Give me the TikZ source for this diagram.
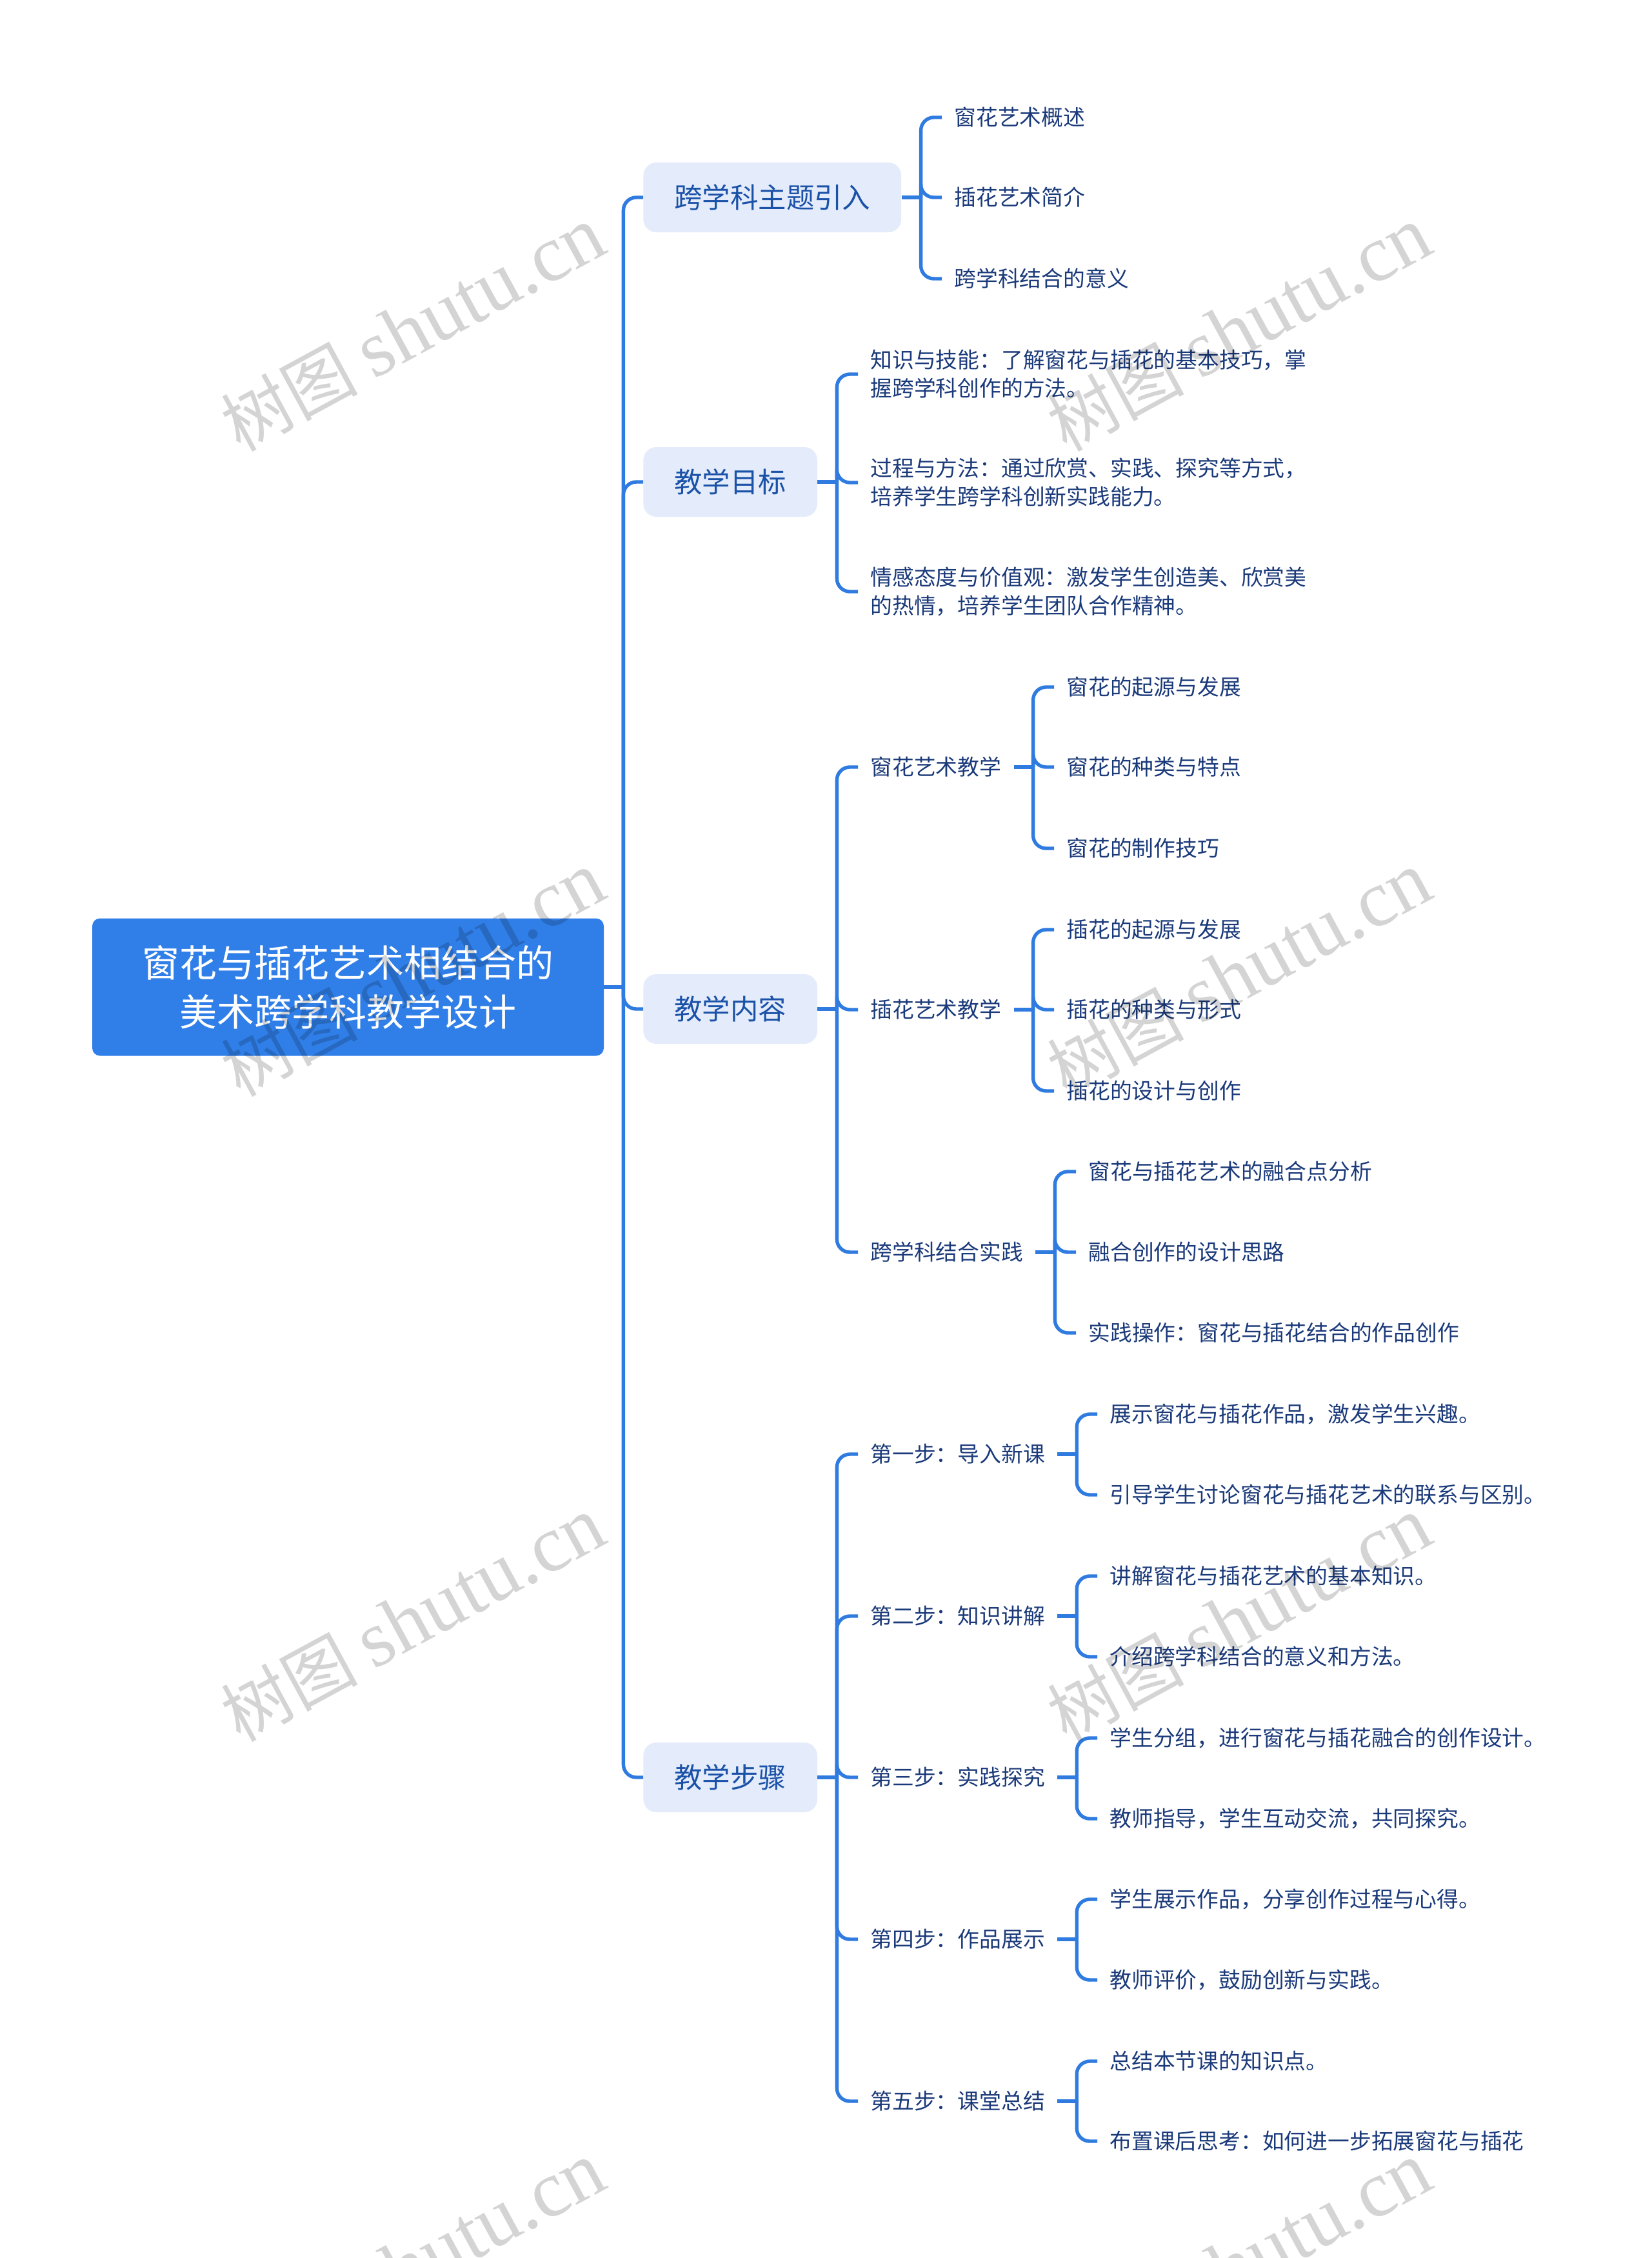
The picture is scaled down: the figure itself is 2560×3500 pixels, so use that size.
\documentclass[tikz,border=0pt]{standalone}
\usepackage{fontspec}
\setmainfont{Noto Sans CJK SC}
\newfontfamily\markfont{Liberation Serif}
\usetikzlibrary{positioning}
\definecolor{linkblue}{HTML}{2F7BE0}
\definecolor{rootblue}{HTML}{307FE8}
\definecolor{boxblue}{HTML}{E4EBFB}
\definecolor{boxtext}{HTML}{1A52A8}
\definecolor{leaftext}{HTML}{1B3A7A}
\tikzset{
    link/.style={draw=linkblue, line width=2.7pt, rounded corners=10pt},
    root/.style={rectangle, fill=rootblue, rounded corners=6pt, text=white, align=center,
        minimum width=396.5pt, minimum height=106.5pt, font=\fontsize{29}{38}\selectfont},
    topic/.style={rectangle, fill=boxblue, rounded corners=10pt, text=boxtext, anchor=west,
        inner xsep=24pt, minimum height=54pt, font=\fontsize{21.7}{28}\selectfont},
    leaf/.style={rectangle, text=leaftext, align=left, anchor=west, inner xsep=9.5pt, inner ysep=0pt,
        font=\fontsize{16.9}{22}\selectfont},
    watermark/.style={text=black, opacity=0.17, rotate=28.5}
}
\begin{document}
\begin{tikzpicture}[x=0.5pt, y=-0.5pt]
	\useasboundingbox (0,0) rectangle (2560,3500);
	\node[root] (main) at (539.5,1530) {窗花与插花艺术相结合的\\美术跨学科教学设计};
	% first level
	\node[topic] (intro) at (997,306) {跨学科主题引入};
	\node[topic] (goal) at (997,747) {教学目标};
	\node[topic] (content) at (997,1564) {教学内容};
	\node[topic] (steps) at (997,2755) {教学步骤};
	% intro
	\node[leaf] (intro1) at (1460,182) {窗花艺术概述};
	\node[leaf] (intro2) at (1460,306) {插花艺术简介};
	\node[leaf] (intro3) at (1460,432) {跨学科结合的意义};
	% goal
	\node[leaf] (goal1) at (1330,580) {知识与技能：了解窗花与插花的基本技巧，掌\\握跨学科创作的方法。};
	\node[leaf] (goal2) at (1330,748) {过程与方法：通过欣赏、实践、探究等方式，\\培养学生跨学科创新实践能力。};
	\node[leaf] (goal3) at (1330,917) {情感态度与价值观：激发学生创造美、欣赏美\\的热情，培养学生团队合作精神。};
	% content
	\node[leaf] (art1) at (1330,1189) {窗花艺术教学};
	\node[leaf] (art2) at (1330,1565) {插花艺术教学};
	\node[leaf] (art3) at (1330,1941) {跨学科结合实践};
	\node[leaf] (art11) at (1634,1065) {窗花的起源与发展};
	\node[leaf] (art12) at (1634,1189) {窗花的种类与特点};
	\node[leaf] (art13) at (1634,1315) {窗花的制作技巧};
	\node[leaf] (art21) at (1634,1441) {插花的起源与发展};
	\node[leaf] (art22) at (1634,1565) {插花的种类与形式};
	\node[leaf] (art23) at (1634,1691) {插花的设计与创作};
	\node[leaf] (art31) at (1668,1816) {窗花与插花艺术的融合点分析};
	\node[leaf] (art32) at (1668,1941) {融合创作的设计思路};
	\node[leaf] (art33) at (1668,2066) {实践操作：窗花与插花结合的作品创作};
	% steps
	\node[leaf] (step1) at (1330,2254) {第一步：导入新课};
	\node[leaf] (step2) at (1330,2505) {第二步：知识讲解};
	\node[leaf] (step3) at (1330,2755) {第三步：实践探究};
	\node[leaf] (step4) at (1330,3006) {第四步：作品展示};
	\node[leaf] (step5) at (1330,3257) {第五步：课堂总结};
	\node[leaf] (step11) at (1701,2192) {展示窗花与插花作品，激发学生兴趣。};
	\node[leaf] (step12) at (1701,2317) {引导学生讨论窗花与插花艺术的联系与区别。};
	\node[leaf] (step21) at (1701,2443) {讲解窗花与插花艺术的基本知识。};
	\node[leaf] (step22) at (1701,2568) {介绍跨学科结合的意义和方法。};
	\node[leaf] (step31) at (1701,2694) {学生分组，进行窗花与插花融合的创作设计。};
	\node[leaf] (step32) at (1701,2819) {教师指导，学生互动交流，共同探究。};
	\node[leaf] (step41) at (1701,2944) {学生展示作品，分享创作过程与心得。};
	\node[leaf] (step42) at (1701,3069) {教师评价，鼓励创新与实践。};
	\node[leaf] (step51) at (1701,3195) {总结本节课的知识点。};
	\node[leaf] (step52) at (1701,3319) {布置课后思考：如何进一步拓展窗花与插花};
	% connectors
	\foreach \head/\kids in {main/{intro,goal,content,steps},intro/{intro1,intro2,intro3},goal/{goal1,goal2,goal3},
		content/{art1,art2,art3},art1/{art11,art12,art13},art2/{art21,art22,art23},art3/{art31,art32,art33},
		steps/{step1,step2,step3,step4,step5},step1/{step11,step12},step2/{step21,step22},step3/{step31,step32},
		step4/{step41,step42},step5/{step51,step52}}
	{
		\draw[link] (\head.east) -- ++(30,0);
		\foreach \kid in \kids
			\draw[link] (\head.east) ++(30,0) |- (\kid.west);
	}
	% marks of the site
	\foreach \row in {0,1,2,3}
		\foreach \col in {0,1}
			\node[watermark] (mark\row\col) at (640+1281*\col,510+1000*\row)
				{\fontsize{53}{60}\selectfont 树图 \fontsize{62}{70}\markfont shutu.cn};
\end{tikzpicture}
\end{document}
